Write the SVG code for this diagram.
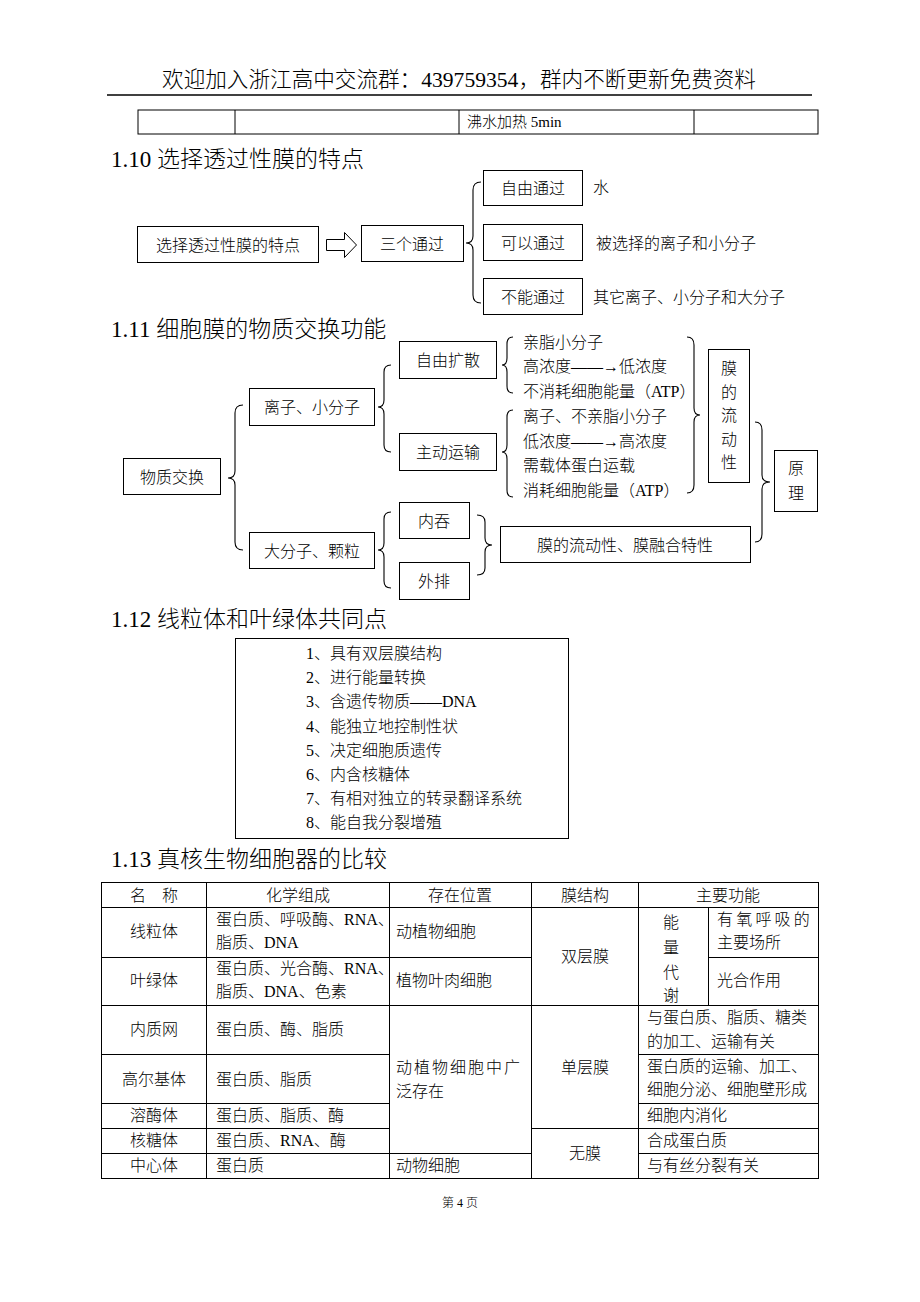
<svg xmlns="http://www.w3.org/2000/svg" width="920" height="1302" viewBox="0 0 920 1302">
<style>
text{font-family:'Liberation Serif','Noto Sans CJK SC',serif;fill:#000;font-size:16px;font-weight:300}
.t{font-size:23px}
.h{font-size:21.6px}
.c{text-anchor:middle}
.box{fill:#fff;stroke:#000;stroke-width:1}
.ln{stroke:#000;stroke-width:1;fill:none}
.br{stroke:#000;stroke-width:1.1;fill:none}
.f{font-size:12px}
</style>
<rect width="920" height="1302" fill="#fff"/>
<g id="header">
<text class="h c" x="459" y="87">欢迎加入浙江高中交流群：439759354，群内不断更新免费资料</text>
<line x1="107" y1="95" x2="812" y2="95" stroke="#000" stroke-width="1.6"/>
</g>
<g id="top-table">
<rect class="box" x="138" y="110" width="680" height="24"/>
<line class="ln" x1="235" y1="110" x2="235" y2="134"/>
<line class="ln" x1="459" y1="110" x2="459" y2="134"/>
<line class="ln" x1="694" y1="110" x2="694" y2="134"/>
<text x="467" y="127" style="font-size:15px">沸水加热 5min</text>
</g>

<text class="t" x="111" y="167">1.10 选择透过性膜的特点</text>
<g id="n-xzt"><rect class="box" x="137.5" y="226.5" width="181" height="36"/><text class="c" x="228" y="251">选择透过性膜的特点</text></g>
<g id="n-sgtg"><rect class="box" x="361.5" y="225.5" width="102" height="36"/><text class="c" x="412" y="250">三个通过</text></g>
<g id="n-zytg"><rect class="box" x="483.5" y="170.5" width="99" height="35"/><text class="c" x="533" y="194">自由通过</text></g>
<g id="n-kytg"><rect class="box" x="483.5" y="224.5" width="99" height="36"/><text class="c" x="533" y="249">可以通过</text></g>
<g id="n-bntg"><rect class="box" x="483.5" y="278.5" width="99" height="36"/><text class="c" x="533" y="303">不能通过</text></g>
<g id="l-water"><text x="593" y="193">水</text></g>
<g id="l-sel"><text x="596" y="249">被选择的离子和小分子</text></g>
<g id="l-other"><text x="593" y="303">其它离子、小分子和大分子</text></g>

<text class="t" x="111" y="337">1.11 细胞膜的物质交换功能</text>
<g id="n-wzjh"><rect class="box" x="123.5" y="458.5" width="97" height="36"/><text class="c" x="172" y="483">物质交换</text></g>
<g id="n-lzxfz"><rect class="box" x="249.5" y="388.5" width="125" height="37"/><text class="c" x="312" y="413">离子、小分子</text></g>
<g id="n-dfzkl"><rect class="box" x="249.5" y="532.5" width="125" height="36"/><text class="c" x="312" y="557">大分子、颗粒</text></g>
<g id="n-zyks"><rect class="box" x="399.5" y="341.5" width="97" height="37"/><text class="c" x="448" y="366">自由扩散</text></g>
<g id="n-zdys"><rect class="box" x="399.5" y="433.5" width="97" height="37"/><text class="c" x="448" y="458">主动运输</text></g>
<g id="n-nt"><rect class="box" x="399.5" y="502.5" width="70" height="36"/><text class="c" x="434" y="527">内吞</text></g>
<g id="n-wp"><rect class="box" x="399.5" y="562.5" width="70" height="37"/><text class="c" x="434" y="587">外排</text></g>
<g id="n-zyks-d">
<text x="523" y="348">亲脂小分子</text>
<text x="523" y="372">高浓度——→低浓度</text>
<text x="523" y="397">不消耗细胞能量（ATP）</text>
</g>
<g id="n-zdys-d">
<text x="523" y="422">离子、不亲脂小分子</text>
<text x="523" y="447">低浓度——→高浓度</text>
<text x="523" y="471">需载体蛋白运载</text>
<text x="523" y="496">消耗细胞能量（ATP）</text>
</g>
<g id="n-mldx"><rect class="box" x="708.5" y="349.5" width="41" height="133"/>
<text class="c" x="729" y="374">膜</text><text class="c" x="729" y="397.5">的</text><text class="c" x="729" y="421">流</text><text class="c" x="729" y="444.5">动</text><text class="c" x="729" y="468">性</text></g>
<g id="n-yl"><rect class="box" x="774.5" y="450.5" width="43" height="61"/>
<text class="c" x="796" y="474">原</text><text class="c" x="796" y="499">理</text></g>
<g id="n-mrh"><rect class="box" x="500.5" y="526.5" width="250" height="36"/><text class="c" x="625" y="551">膜的流动性、膜融合特性</text></g>

<text class="t" x="111" y="627">1.12 线粒体和叶绿体共同点</text>
<g id="n-common"><rect class="box" x="235.5" y="638.5" width="333" height="200"/>
<text x="306" y="659">1、具有双层膜结构</text>
<text x="306" y="683">2、进行能量转换</text>
<text x="306" y="707">3、含遗传物质——DNA</text>
<text x="306" y="732">4、能独立地控制性状</text>
<text x="306" y="756">5、决定细胞质遗传</text>
<text x="306" y="780">6、内含核糖体</text>
<text x="306" y="804">7、有相对独立的转录翻译系统</text>
<text x="306" y="828">8、能自我分裂增殖</text>
</g>

<text class="t" x="111" y="867">1.13 真核生物细胞器的比较</text>
<g id="table">
<rect class="box" x="101.5" y="882.5" width="717" height="296" fill="none"/>
<g class="ln">
<line x1="206.5" y1="882" x2="206.5" y2="1178"/>
<line x1="389.5" y1="882" x2="389.5" y2="1178"/>
<line x1="531.5" y1="882" x2="531.5" y2="1178"/>
<line x1="638.5" y1="882" x2="638.5" y2="1178"/>
<line x1="708.5" y1="907" x2="708.5" y2="1005"/>
<line x1="101" y1="907.5" x2="818" y2="907.5"/>
<line x1="101" y1="957.5" x2="531" y2="957.5"/>
<line x1="708" y1="957.5" x2="818" y2="957.5"/>
<line x1="101" y1="1005.5" x2="818" y2="1005.5"/>
<line x1="101" y1="1054.5" x2="389" y2="1054.5"/>
<line x1="638" y1="1054.5" x2="818" y2="1054.5"/>
<line x1="101" y1="1103.5" x2="389" y2="1103.5"/>
<line x1="638" y1="1103.5" x2="818" y2="1103.5"/>
<line x1="101" y1="1128.5" x2="389" y2="1128.5"/>
<line x1="531" y1="1128.5" x2="818" y2="1128.5"/>
<line x1="101" y1="1153.5" x2="531" y2="1153.5"/>
<line x1="638" y1="1153.5" x2="818" y2="1153.5"/>
</g>
<text class="c" x="154" y="901">名　称</text>
<text class="c" x="298" y="901">化学组成</text>
<text class="c" x="460" y="901">存在位置</text>
<text class="c" x="585" y="901">膜结构</text>
<text class="c" x="728" y="901">主要功能</text>

<text class="c" x="154" y="937">线粒体</text>
<text x="216" y="925">蛋白质、呼吸酶、RNA、</text>
<text x="216" y="948">脂质、DNA</text>
<text x="396" y="937">动植物细胞</text>
<text class="c" x="585" y="962">双层膜</text>
<text class="c" x="671" y="928">能</text><text class="c" x="671" y="953">量</text><text class="c" x="671" y="978">代</text><text class="c" x="671" y="1001">谢</text>
<text x="717" y="925" letter-spacing="3.2">有氧呼吸的</text>
<text x="717" y="948">主要场所</text>

<text class="c" x="154" y="986">叶绿体</text>
<text x="216" y="974">蛋白质、光合酶、RNA、</text>
<text x="216" y="997">脂质、DNA、色素</text>
<text x="396" y="986">植物叶肉细胞</text>
<text x="717" y="986">光合作用</text>

<text class="c" x="154" y="1035">内质网</text>
<text x="216" y="1035">蛋白质、酶、脂质</text>
<text x="647" y="1023">与蛋白质、脂质、糖类</text>
<text x="647" y="1047">的加工、运输有关</text>

<text class="c" x="154" y="1085">高尔基体</text>
<text x="216" y="1085">蛋白质、脂质</text>
<text x="396" y="1073" letter-spacing="2">动植物细胞中广</text>
<text x="396" y="1097">泛存在</text>
<text class="c" x="585" y="1073">单层膜</text>
<text x="647" y="1072">蛋白质的运输、加工、</text>
<text x="647" y="1095">细胞分泌、细胞壁形成</text>

<text class="c" x="154" y="1121">溶酶体</text>
<text x="216" y="1121">蛋白质、脂质、酶</text>
<text x="647" y="1121">细胞内消化</text>

<text class="c" x="154" y="1146">核糖体</text>
<text x="216" y="1146">蛋白质、RNA、酶</text>
<text class="c" x="585" y="1159">无膜</text>
<text x="647" y="1146">合成蛋白质</text>

<text class="c" x="154" y="1171">中心体</text>
<text x="216" y="1171">蛋白质</text>
<text x="396" y="1171">动物细胞</text>
<text x="647" y="1171">与有丝分裂有关</text>
</g>

<g id="connectors">
<polygon points="326.5,239.5 344.5,239.5 344.5,232.5 356.5,245 344.5,257.5 344.5,250.5 326.5,250.5" fill="#fff" stroke="#000" stroke-width="1"/>
<path class="br" d="M481,182 Q473,182 473,190 L473,236 Q473,243 466,243 Q473,243 473,250 L473,295 Q473,303 481,303"/>
<path class="br" d="M243,405 Q235,405 235,413 L235,471 Q235,478 228,478 Q235,478 235,485 L235,542 Q235,550 243,550"/>
<path class="br" d="M391,365 Q384,365 384,372 L384,400 Q384,407 378,407 Q384,407 384,414 L384,445 Q384,452 391,452"/>
<path class="br" d="M391,512 Q384,512 384,519 L384,543 Q384,550 378,550 Q384,550 384,557 L384,581 Q384,588 391,588"/>
<path class="br" d="M477,515 Q485,515 485,522 L485,538 Q485,545 492,545 Q485,545 485,552 L485,568 Q485,575 477,575"/>
<path class="br" d="M513,337 Q507,337 507,344 L507,358 Q507,365 502,365 Q507,365 507,372 L507,386 Q507,393 513,393"/>
<path class="br" d="M513,410 Q507,410 507,417 L507,445 Q507,452 502,452 Q507,452 507,459 L507,490 Q507,497 513,497"/>
<path class="br" d="M687,337 Q694,337 694,345 L694,408 Q694,415 700,415 Q694,415 694,422 L694,485 Q694,493 687,493"/>
<path class="br" d="M755,422 Q762,422 762,430 L762,475 Q762,482 770,482 Q762,482 762,489 L762,534 Q762,542 755,542"/>
</g>
<text class="c f" x="460" y="1207">第 4 页</text>
</svg>
